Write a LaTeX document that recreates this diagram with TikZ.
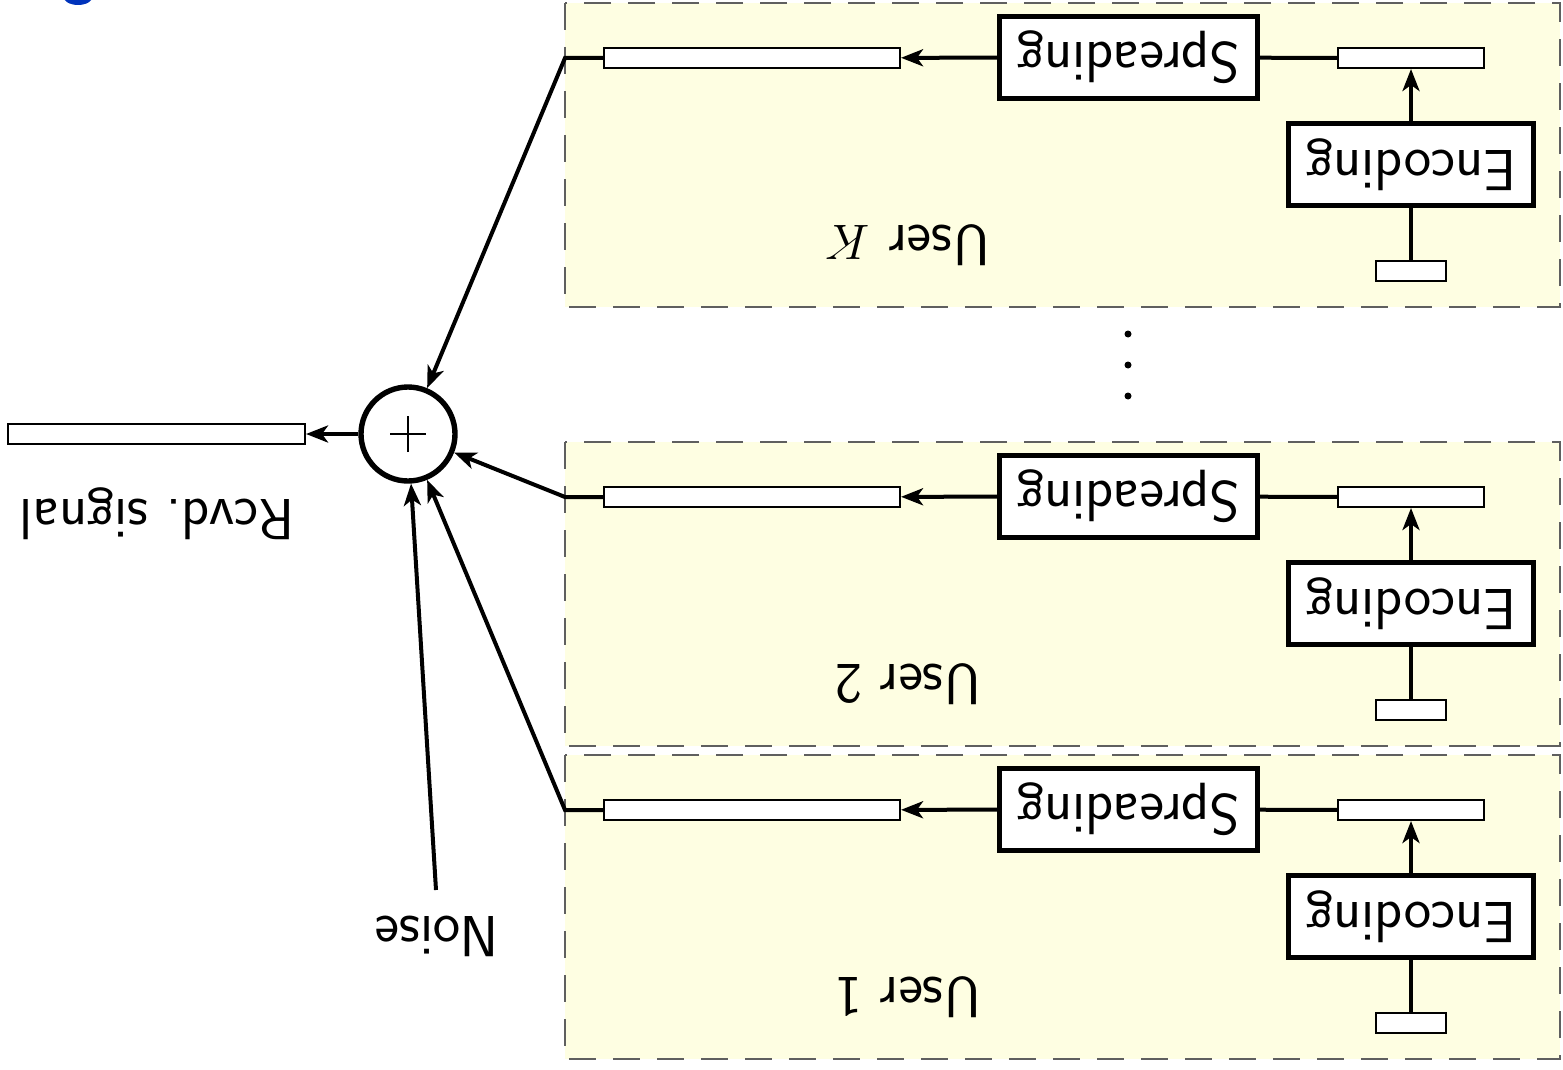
\documentclass[tikz,border=0pt]{standalone}
\usetikzlibrary{arrows.meta}
\definecolor{userfill}{RGB}{254,254,226}
\definecolor{framegray}{RGB}{95,95,95}
\definecolor{logoblue}{RGB}{0,51,187}
\begin{document}
\begin{tikzpicture}[x=0.5pt,y=-0.5pt,
  conn/.style={line width=2pt},
  arr/.style={conn,-{Stealth[length=11pt,width=8.5pt,inset=3pt]}},
  bar/.style={draw,fill=white,line width=1pt,inner sep=0pt,minimum height=10pt},
  blockbox/.style={draw,fill=white,line width=2.7pt,inner sep=0pt,minimum height=41pt,
    rotate=180,font=\sffamily\fontsize{29}{34}\selectfont},
  userbox/.style={draw=framegray,fill=userfill,line width=1pt,dash pattern=on 13.5pt off 8.5pt},
  lbl/.style={rotate=180,inner sep=0pt,font=\sffamily\fontsize{29}{34}\selectfont}
]
\clip (0,0) rectangle (1563,1070);

% partly visible emblem at the top edge
\fill[logoblue] (78,-4) ellipse [x radius=15, y radius=9];

% adder
\node[draw,circle,line width=2.7pt,minimum size=47pt,inner sep=0pt] (adder) at (408,434) {};
\draw[line width=1.1pt] ([xshift=-9pt]adder.center) -- ([xshift=9pt]adder.center)
                        ([yshift=-9pt]adder.center) -- ([yshift=9pt]adder.center);

% one transmitter chain per user
\foreach \dy/\name/\lab in {0/K/{User $K$}, 439/2/{User 2}, 752/1/{User 1}}{
  \draw[userbox] (565,{3+\dy}) rectangle (1560,{307+\dy});
  \node[bar,minimum width=148pt] (long\name) at (752,{58+\dy}) {};
  \node[blockbox,minimum width=129pt] (spread\name) at (1128.5,{57.5+\dy}) {Spreading};
  \node[bar,minimum width=73pt] (small\name) at (1411,{58+\dy}) {};
  \node[blockbox,minimum width=122.5pt] (enc\name) at (1411,{164.5+\dy}) {Encoding};
  \node[bar,minimum width=35pt] (tiny\name) at (1411,{271+\dy}) {};
  \node[lbl] (label\name) at (908,{245+\dy}) {\lab};
  \coordinate (exit\name) at (565,{58+\dy});
  \draw[conn] (tiny\name) -- (enc\name);
  \draw[arr] (enc\name) -- (small\name);
  \draw[conn] (small\name) -- (spread\name);
  \draw[arr] (spread\name) -- (long\name);
  \draw[arr] (long\name.west) -- (exit\name) -- (adder);
}

% vertical ellipsis between the user chains
\foreach \yy in {334,365,396}{\fill (1128,\yy) circle [radius=3.5];}

% noise input
\node[lbl] (noise) at (437,936) {Noise};
\coordinate (noisetail) at (436,890);
\draw[arr] (noisetail) -- (adder);

% received signal
\node[bar,minimum width=148.5pt] (out) at (156.5,434) {};
\draw[arr] (adder) -- (out);
\node[lbl] (outlabel) at (157,514) {Rcvd.\ signal};
\end{tikzpicture}
\end{document}
